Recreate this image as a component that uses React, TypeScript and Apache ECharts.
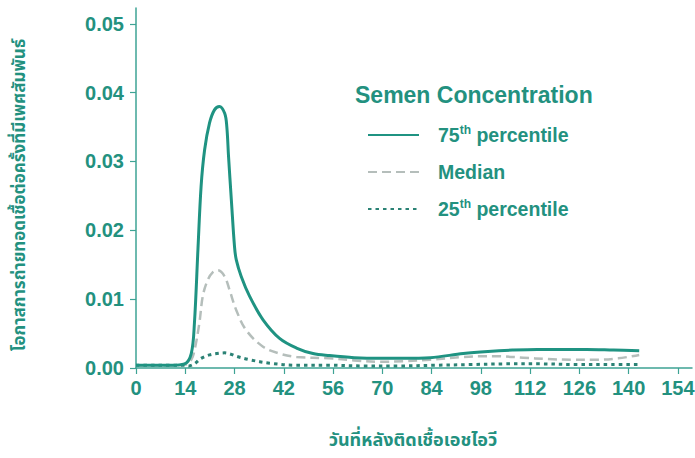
import React, { useEffect, useRef } from "react";
import * as echarts from "echarts";

const xTicks = [0, 14, 28, 42, 56, 70, 84, 98, 112, 126, 140, 154];
const yTicks = [0, 0.01, 0.02, 0.03, 0.04, 0.05];

const days75 = [0, 5, 10, 13.8, 15.7, 16.6, 17.6, 18.5, 19.5, 20.9, 22.3, 23.7, 25.2, 25.8, 26.3, 27.1, 28, 28.5, 29.9, 32.3, 36.1, 40.8, 45.6, 50.3, 55, 62, 69.3, 76, 83.6, 93, 100, 107, 114, 121.5, 128, 135.7, 143];
const p75 = [0.0004, 0.0004, 0.0004, 0.0006, 0.0021, 0.0065, 0.0172, 0.0264, 0.0317, 0.0356, 0.0375, 0.038, 0.037, 0.0351, 0.0307, 0.0244, 0.0176, 0.0157, 0.0133, 0.0104, 0.007, 0.0043, 0.0029, 0.0021, 0.0018, 0.0015, 0.0014, 0.0014, 0.0015, 0.0021, 0.0024, 0.0026, 0.0027, 0.0027, 0.0027, 0.0026, 0.0025];

const daysMed = [0, 5, 10, 14, 15.7, 16.6, 18, 19, 20.4, 21.8, 23.3, 25.2, 26.6, 28.5, 31.3, 36.1, 40.8, 45.6, 55, 62, 69.3, 76, 83.6, 93, 98, 102.6, 110, 116.8, 124, 131, 137, 143];
const median = [0.0004, 0.0004, 0.0004, 0.0005, 0.0012, 0.0025, 0.0065, 0.0105, 0.0128, 0.0139, 0.0142, 0.0133, 0.0113, 0.0084, 0.0055, 0.0031, 0.0021, 0.0016, 0.0014, 0.0011, 0.0009, 0.001, 0.0012, 0.0016, 0.0017, 0.0017, 0.0015, 0.0013, 0.0012, 0.0012, 0.0014, 0.0019];

const days25 = [0, 5, 10, 14, 15, 16.6, 18.5, 20.9, 23, 25.2, 27, 28.5, 32.3, 38, 45.6, 55, 65, 75, 85, 95, 105, 115, 125, 135, 143];
const p25 = [0.0004, 0.0004, 0.0004, 0.0004, 0.0003, 0.0006, 0.0014, 0.0019, 0.0021, 0.0022, 0.002, 0.0017, 0.0012, 0.0007, 0.0004, 0.0004, 0.0003, 0.0003, 0.0004, 0.0005, 0.0006, 0.0006, 0.0005, 0.0005, 0.0005];

const seriesNames = ["75th percentile", "Median", "25th percentile"];
const legendTitle = "Semen Concentration";
const yTitle = "โอกาสการถ่ายทอดเชื้อต่อครั้งที่มีเพศสัมพันธ์";
const xTitle = "วันที่หลังติดเชื้อเอชไอวี";

const TEAL = "#1f9382";
const TEXT = "#23917f";
const DOT = "#2b8275";
const GRAY = "#b5bebb";
const AXIS = "#3ea394";
const FONT = "'Liberation Sans', Arial, sans-serif";
const THAI = "'Noto Sans Thai', 'Noto Sans', 'DejaVu Sans', sans-serif";

const zip = (xs: number[], ys: number[]) => xs.map((x, i) => [x, ys[i]]);

export default function App() {
  const ref = useRef<HTMLDivElement>(null);
  useEffect(() => {
    if (!ref.current) return;
    const chart = echarts.init(ref.current, undefined, { renderer: "svg" });
    chart.setOption({
      animation: false,
      backgroundColor: "#ffffff",
      grid: { left: 136, right: 3, top: 8, bottom: 90, outerBoundsMode: "none" },
      title: {
        text: legendTitle,
        left: 355,
        top: 83,
        padding: 0,
        textStyle: { color: TEXT, fontSize: 23, fontWeight: "bold", fontFamily: FONT },
      },
      legend: {
        orient: "vertical",
        left: 367,
        top: 124,
        padding: 0,
        itemWidth: 51,
        itemHeight: 14,
        itemGap: 15,
        data: seriesNames,
        itemStyle: { opacity: 0 },
        formatter: (name: string) => {
          if (name === "Median") return "{f|Median}";
          const m = name.match(/^(\d+)th (.*)$/);
          if (m) return `{f|${m[1]}}{s|th}{n| ${m[2]}}`;
          return `{f|${name}}`;
        },
        textStyle: {
          color: TEXT,
          fontSize: 19,
          fontWeight: "bold",
          fontFamily: FONT,
          lineHeight: 22,
          rich: {
            f: { color: TEXT, fontSize: 19.5, fontWeight: "bold", fontFamily: FONT, padding: [0, 0, 0, 14] },
            n: { color: TEXT, fontSize: 19.5, fontWeight: "bold", fontFamily: FONT },
            s: { color: TEXT, fontSize: 12, fontWeight: "bold", fontFamily: FONT, verticalAlign: "top" },
          },
        },
      },
      xAxis: {
        type: "value",
        min: 0,
        max: 158,
        interval: 14,
        splitLine: { show: false },
        axisLine: { show: true, onZero: false, lineStyle: { color: AXIS, width: 1.5 } },
        axisTick: { show: true, length: 6, customValues: xTicks, lineStyle: { color: AXIS, width: 1.2 } },
        axisLabel: {
          customValues: xTicks,
          margin: 10,
          color: TEXT,
          fontSize: 20,
          fontWeight: "bold",
          fontFamily: FONT,
        },
      },
      yAxis: {
        type: "value",
        min: 0,
        max: 0.0523,
        interval: 0.01,
        splitLine: { show: false },
        axisLine: { show: true, onZero: false, lineStyle: { color: AXIS, width: 1.5 } },
        axisTick: { show: true, length: 6, customValues: yTicks, lineStyle: { color: AXIS, width: 1.2 } },
        axisLabel: {
          customValues: yTicks,
          margin: 12,
          color: TEXT,
          fontSize: 20,
          fontWeight: "bold",
          fontFamily: FONT,
          formatter: (v: number) => v.toFixed(2),
        },
      },
      graphic: [
        {
          type: "text",
          x: 20,
          y: 195,
          rotation: Math.PI / 2,
          style: {
            text: yTitle,
            fill: TEXT,
            font: `bold 17px ${THAI}`,
            textAlign: "center",
            textVerticalAlign: "middle",
          },
        },
        {
          type: "text",
          x: 413,
          y: 440,
          style: {
            text: xTitle,
            fill: TEXT,
            font: `bold 18px ${THAI}`,
            textAlign: "center",
            textVerticalAlign: "middle",
          },
        },
      ],
      series: [
        {
          name: seriesNames[0],
          type: "line",
          data: zip(days75, p75),
          symbol: "none",
          smooth: 0.35,
          z: 3,
          lineStyle: { color: TEAL, width: 3 },
          itemStyle: { color: TEAL },
        },
        {
          name: seriesNames[1],
          type: "line",
          data: zip(daysMed, median),
          symbol: "none",
          smooth: 0.35,
          z: 2,
          lineStyle: { color: GRAY, width: 2.5, type: [9, 5] },
          itemStyle: { color: GRAY },
        },
        {
          name: seriesNames[2],
          type: "line",
          data: zip(days25, p25),
          symbol: "none",
          smooth: 0.35,
          z: 2,
          lineStyle: { color: DOT, width: 3, type: [3.5, 4] },
          itemStyle: { color: DOT },
        },
      ],
    });
    return () => chart.dispose();
  }, []);
  return (
    <div
      ref={ref}
      style={{ position: "fixed", left: 0, top: 0, width: 695, height: 458, background: "#fff" }}
    />
  );
}
